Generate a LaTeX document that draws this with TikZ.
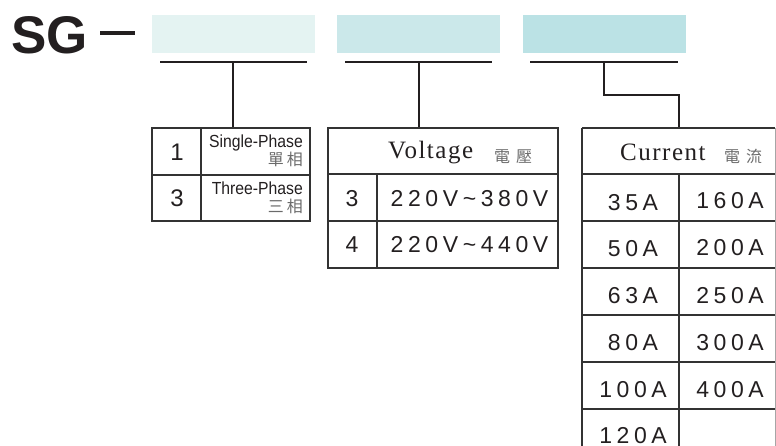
\documentclass[tikz,border=0pt]{standalone}
\usepackage{fontspec}
\setmainfont{Liberation Sans}
\newfontfamily\hdrserif{Liberation Serif}[LetterSpace=6]
\newfontfamily\narrowsans{Liberation Sans}[FakeStretch=0.9]
\newfontfamily\spacedsans{Liberation Sans}[LetterSpace=20]
\newfontfamily\cjkfont{Noto Sans CJK TC}
\definecolor{ink}{HTML}{231F20}
\definecolor{tline}{HTML}{333333}
\definecolor{cjkgray}{HTML}{6A6A6A}
\definecolor{boxa}{HTML}{E4F3F2}
\definecolor{boxb}{HTML}{CBE8EA}
\definecolor{boxc}{HTML}{BBE2E5}
\tikzset{
  codebox/.style={inner sep=0pt, minimum width=163pt, minimum height=38pt},
  conn/.style={draw=ink, line width=1.8pt},
  grid/.style={draw=tline, line width=1.3pt},
  txt/.style={inner sep=0pt, text=ink},
  numtxt/.style={txt, font=\fontsize{24}{24}\selectfont, anchor=base},
  valtxt/.style={txt, font=\spacedsans\fontsize{23}{23}\selectfont, anchor=base},
  hdrtxt/.style={txt, font=\hdrserif\fontsize{25}{25}\selectfont, anchor=base west},
  cjktxt/.style={inner sep=0pt, text=cjkgray, font=\cjkfont\fontsize{16}{16}\selectfont},
  phasetxt/.style={txt, font=\narrowsans\fontsize{17.5}{17.5}\selectfont, anchor=base east},
}
\begin{document}
\begin{tikzpicture}[x=1pt,y=-1pt]
\useasboundingbox (0,0) rectangle (776,445);
\clip (0,0) rectangle (776,445);
% title
\node[txt, font=\bfseries\fontsize{53}{53}\selectfont, anchor=base west] (sg) at (11,53) {SG};
\node[fill=ink, inner sep=0pt, minimum width=35pt, minimum height=4pt] (dash) at (117.5,33) {};
% code boxes
\node[codebox, fill=boxa] (b1) at (233.5,34) {};
\node[codebox, fill=boxb] (b2) at (418.5,34) {};
\node[codebox, fill=boxc] (b3) at (604.5,34) {};
% underlines
\coordinate (u1l) at (160,62); \coordinate (u1r) at (307,62); \coordinate (u1m) at (233,62);
\coordinate (u2l) at (345,62); \coordinate (u2r) at (492,62); \coordinate (u2m) at (419,62);
\coordinate (u3l) at (530,62); \coordinate (u3r) at (678,62); \coordinate (u3m) at (604,62);
\draw[conn] (u1l) -- (u1r);
\draw[conn] (u2l) -- (u2r);
\draw[conn] (u3l) -- (u3r);
% table tops
\coordinate (t1top) at (233,128);
\coordinate (t2top) at (419,128);
\coordinate (t3top) at (679,128);
\draw[conn] (u1m) -- (t1top);
\draw[conn] (u2m) -- (t2top);
\draw[conn] (u3m) -- (604,95) -| (t3top);
% table 1: phase
\draw[grid] (152,128) rectangle (310,221);
\draw[grid] (152,175) -- (310,175);
\draw[grid] (201,128) -- (201,221);
\node[numtxt] (p1) at (177,160) {1};
\node[numtxt] (p3) at (177,206) {3};
\node[phasetxt] (sp) at (303,147) {Single-Phase};
\node[cjktxt, anchor=base east] (spc) at (303,165.5) {單\hspace{3pt}相};
\node[phasetxt] (tp) at (303,194) {Three-Phase};
\node[cjktxt, anchor=base east] (tpc) at (303,212.5) {三\hspace{3pt}相};
% table 2: voltage
\draw[grid] (328,128) rectangle (558,268);
\draw[grid] (328,174) -- (558,174);
\draw[grid] (328,221) -- (558,221);
\draw[grid] (377,174) -- (377,268);
\node[hdrtxt] (vh) at (388,158) {Voltage};
\node[cjktxt, anchor=base west] (vhc) at (494,162.5) {電\hspace{6pt}壓};
\node[numtxt, font=\fontsize{23}{23}\selectfont] (v3) at (352,206) {3};
\node[numtxt, font=\fontsize{23}{23}\selectfont] (v4) at (352,252) {4};
\node[valtxt] (v3r) at (469.5,206) {220V\textasciitilde380V};
\node[valtxt] (v4r) at (469.5,252) {220V\textasciitilde440V};
% table 3: current
\draw[grid] (582,128) -- (775,128);
\draw[grid] (582,128) -- (582,460);
\draw[draw=gray!70, line width=1pt] (775,128) -- (775,460);
\foreach \yy in {174,221,268,315,362,409} {\draw[grid] (582,\yy) -- (775,\yy);}
\draw[grid] (679,174) -- (679,460);
\node[hdrtxt] (ch) at (620,160.5) {Current};
\node[cjktxt, anchor=base west] (chc) at (724,162.5) {電\hspace{6pt}流};
\node[valtxt] (c35) at (633,210) {35A};
\node[valtxt] (c50) at (633,256.5) {50A};
\node[valtxt] (c63) at (633,303) {63A};
\node[valtxt] (c80) at (633,350.5) {80A};
\node[valtxt] (c100) at (633,397.5) {100A};
\node[valtxt] (c120) at (633,443) {120A};
\node[valtxt] (c160) at (730,208) {160A};
\node[valtxt] (c200) at (730,255) {200A};
\node[valtxt] (c250) at (730,303) {250A};
\node[valtxt] (c300) at (730,350.5) {300A};
\node[valtxt] (c400) at (730,397.5) {400A};
\end{tikzpicture}
\end{document}
